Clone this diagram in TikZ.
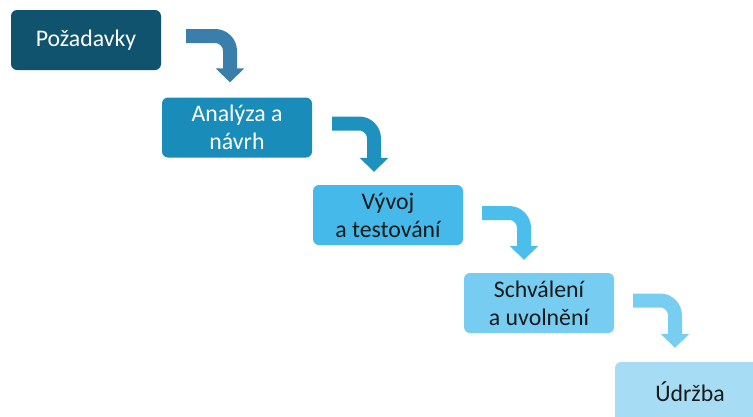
\documentclass[tikz,border=0pt]{standalone}
\usepackage{fontspec}
\setmainfont{Carlito}
\usetikzlibrary{arrows.meta,calc}

\definecolor{phaseA}{RGB}{16,83,110}
\definecolor{phaseB}{RGB}{26,140,186}
\definecolor{phaseC}{RGB}{69,185,233}
\definecolor{phaseD}{RGB}{118,205,241}
\definecolor{phaseE}{RGB}{166,221,244}
\definecolor{flowA}{RGB}{58,127,172}
\definecolor{flowB}{RGB}{30,145,191}
\definecolor{flowC}{RGB}{75,190,236}
\definecolor{flowD}{RGB}{120,206,241}
\definecolor{darktext}{RGB}{25,25,25}

\begin{document}
\begin{tikzpicture}[x=1pt,y=-1pt,phase/.style={rectangle,rounded corners=6pt,minimum width=150pt,minimum height=60pt,inner sep=0pt,align=center,font=\fontsize{23.8}{28}\selectfont},flow/.style={line width=14pt,rounded corners=15pt,-{Triangle[width=28pt,length=14pt]}}]

      \clip (0,0) rectangle (753,416);

      \node[phase,fill=phaseA,text=white] at (86,40) (1) {Požadavky};
      \node[phase,fill=phaseB,text=white] at (237,127.5) (2) {Analýza a\\návrh};
      \node[phase,fill=phaseC,text=darktext] at (388,215) (3) {Vývoj\\a testování};
      \node[phase,fill=phaseD,text=darktext] at (539,303) (4) {Schválení\\a uvolnění};
      \node[phase,fill=phaseE,text=darktext] at (690,392) (5) {Údržba};

      \draw[flow,flowA] ($(1.east)+(25,-4)$) -| ($(2.north)+(-7,-15)$);
      \draw[flow,flowB] ($(2.east)+(20,-4)$) -| ($(3.north)+(-14,-13)$);
      \draw[flow,flowC] ($(3.east)+(19,-2)$) -| ($(4.north)+(-15,-13)$);
      \draw[flow,flowD] ($(4.east)+(19,-2.5)$) -| ($(5.north)+(-15,-14)$);

    \end{tikzpicture}
\end{document}
